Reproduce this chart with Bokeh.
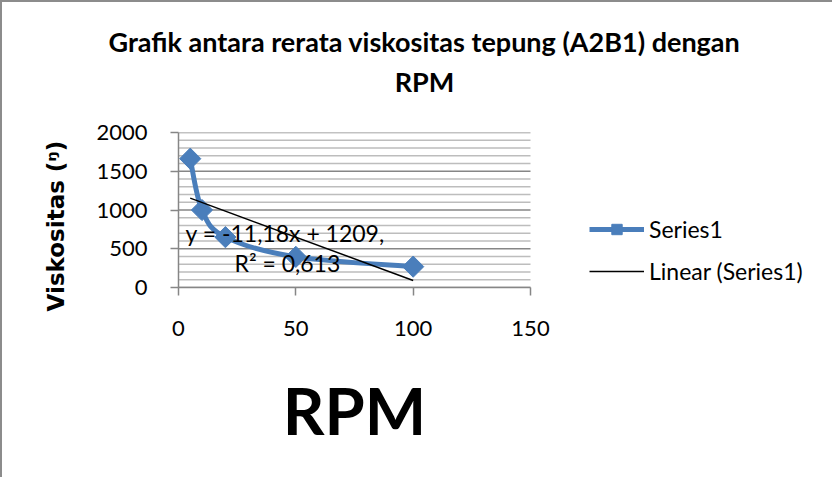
import numpy as np
from bokeh.plotting import figure
from bokeh.models import Range1d, FixedTicker, Label, Legend, LegendItem
from bokeh.embed import file_html
from bokeh.resources import INLINE

# ---- data ----
rpm = [5, 10, 20, 50, 100]
viskositas = [1662, 1000, 650, 395, 269]
x_ticks = [0, 50, 100, 150]
y_ticks = [0, 500, 1000, 1500, 2000]
y_minor = [v for v in range(0, 2001, 100) if v not in y_ticks]
title_lines = ["Grafik antara rerata viskositas tepung (A2B1) dengan", "RPM"]
series_name = "Series1"
trend_name = "Linear (Series1)"
eq_lines = ["y = -11,18x + 1209,", "R\u00b2 = 0,613"]
y_label = "Viskositas (\u1d51)"
x_label = "RPM"

# ---- layout (window pixel geometry; canvas starts at the window corner) ----
W, H = 832, 477
FL, FR, FT, FB = 176, 528, 130, 285     # plot area of the data axes
FRAME_R = 826                           # frame extends right to hold the legend
XMAX, YMAX = x_ticks[-1], y_ticks[-1]
XEND = XMAX * (FRAME_R - FL) / (FR - FL)

def dx(wx):
    return (wx - FL) / (FR - FL) * XMAX

def dy(wy):
    return (FB - wy) / (FB - FT) * YMAX

BLUE = "#4a7ebb"
GRAY = "#868686"

p = figure(width=W, height=H, output_backend="svg", toolbar_location=None,
           x_range=Range1d(0, XEND), y_range=Range1d(0, YMAX),
           min_border_left=FL, min_border_right=W - FRAME_R,
           min_border_top=FT, min_border_bottom=H - FB)
p.styles = {"border-left": "2px solid #8c8c8c", "border-top": "2px solid #8c8c8c"}
p.outline_line_color = None
p.background_fill_color = "white"
p.border_fill_color = "white"

# axes
p.xaxis.ticker = FixedTicker(ticks=x_ticks)
p.xaxis.bounds = (0, XMAX)
p.yaxis.ticker = FixedTicker(ticks=y_ticks)
for ax in (p.xaxis, p.yaxis):
    ax.axis_line_color = GRAY
    ax.axis_line_width = 1.5
    ax.major_tick_line_color = GRAY
    ax.major_tick_line_width = 1.5
    ax.major_tick_in = 0
    ax.major_tick_out = 8
    ax.minor_tick_line_color = None
    ax.major_label_text_font = "Lato"
    ax.major_label_text_font_size = "22px"
    ax.major_label_text_color = "black"
p.xaxis.major_label_standoff = 25
p.yaxis.major_label_standoff = 23

p.yaxis.axis_label = y_label + "\u00a0" * 4
p.yaxis.axis_label_text_font = "DejaVu Sans"
p.yaxis.axis_label_text_font_style = "bold"
p.yaxis.axis_label_text_font_size = "23px"
p.yaxis.axis_label_text_color = "black"
p.yaxis.axis_label_standoff = 24

# horizontal gridlines limited to the data x extent
p.xgrid.grid_line_color = None
p.ygrid.grid_line_color = None
p.segment(x0=[0] * len(y_minor), x1=[XMAX] * len(y_minor), y0=y_minor, y1=y_minor,
          line_color="#bdbdbd", line_width=1.5)
p.segment(x0=[0] * len(y_ticks), x1=[XMAX] * len(y_ticks), y0=y_ticks, y1=y_ticks,
          line_color=GRAY, line_width=1.5)

# smoothed series (Bezier segments through the data points)
xs = np.array(rpm, dtype=float)
ys = np.array(viskositas, dtype=float)
n = len(xs)
x0, y0, x1, y1, cx0, cy0, cx1, cy1 = ([] for _ in range(8))
for i in range(n - 1):
    a = max(i - 1, 0)
    d = min(i + 2, n - 1)
    x0.append(xs[i]); y0.append(ys[i]); x1.append(xs[i + 1]); y1.append(ys[i + 1])
    cx0.append(xs[i] + (xs[i + 1] - xs[a]) / 6); cy0.append(ys[i] + (ys[i + 1] - ys[a]) / 6)
    cx1.append(xs[i + 1] - (xs[d] - xs[i]) / 6); cy1.append(ys[i + 1] - (ys[d] - ys[i]) / 6)
bz = p.bezier(x0=x0, y0=y0, x1=x1, y1=y1, cx0=cx0, cy0=cy0, cx1=cx1, cy1=cy1,
              line_color=BLUE, line_width=5)
sc = p.scatter(rpm, viskositas, marker="square", angle=np.pi / 4, size=15,
               fill_color=BLUE, line_color=BLUE)

# linear trendline
slope, intercept = np.polyfit(xs, ys, 1)
tx = [xs.min(), xs.max()]
tl = p.line(tx, [slope * t + intercept for t in tx], line_color="black", line_width=1.5)

# trendline equation
p.add_layout(Label(x=dx(183), y=dy(230), text=eq_lines[0], text_font="Lato",
                   text_font_size="23px", text_color="black",
                   text_baseline="alphabetic", text_align="left"))
p.add_layout(Label(x=dx(232), y=dy(260), text=eq_lines[1], text_font="Lato",
                   text_font_size="23px", text_color="black",
                   text_baseline="alphabetic", text_align="left"))

# title and x label (labels in side panels are not clipped to the frame)
p.add_layout(Label(x=dx(422), y=dy(39), text=title_lines[0], text_font="Lato",
                   text_font_style="bold", text_font_size="27px", text_color="black",
                   text_baseline="alphabetic", text_align="center"), "above")
p.add_layout(Label(x=dx(422), y=dy(79), text=title_lines[1], text_font="Lato",
                   text_font_style="bold", text_font_size="27px", text_color="black",
                   text_baseline="alphabetic", text_align="center"), "above")
p.add_layout(Label(x=dx(352), y=dy(407), text=x_label, text_font="Lato",
                   text_font_style="bold", text_font_size="65px", text_color="black",
                   text_baseline="middle", text_align="center"), "below")

legend = Legend(items=[LegendItem(label=series_name, renderers=[bz, sc]),
                       LegendItem(label=trend_name, renderers=[tl])],
                location=(587 - FL, 2), padding=0, margin=0, spacing=14,
                glyph_width=55, glyph_height=26, label_height=26, label_standoff=5,
                label_text_font="Lato", label_text_font_size="23px",
                label_text_color="black",
                border_line_color=None, background_fill_alpha=0)
p.add_layout(legend)

open("out.html", "w").write(file_html(p, INLINE))
